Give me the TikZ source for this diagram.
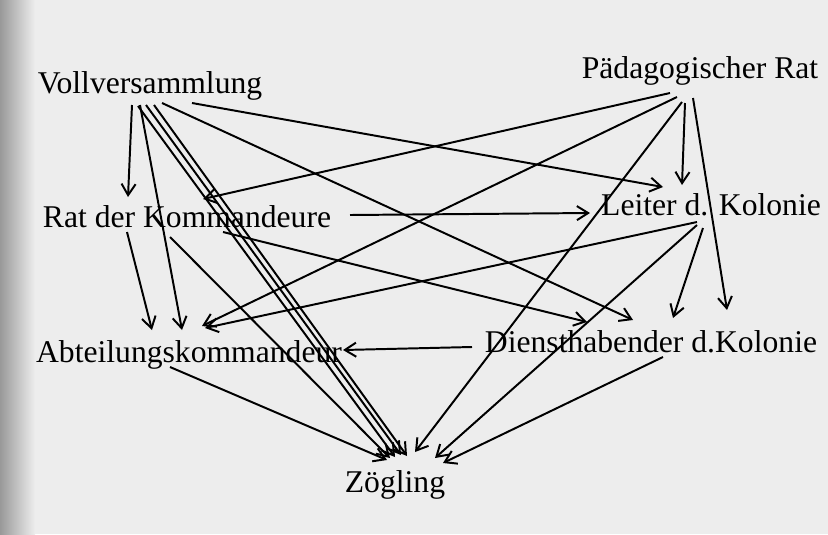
\documentclass[tikz,border=0pt]{standalone}
\usepackage{fontspec}
\setmainfont{Liberation Serif}
\usetikzlibrary{arrows.meta}

\begin{document}
\begin{tikzpicture}[x=0.025cm, y=-0.025cm,
  gremium/.style={anchor=base, inner sep=0pt, font=\fontsize{22.5}{27}\selectfont},
  >={Straight Barb[length=8pt,width=10pt]}]
\useasboundingbox[fill=black!7] (0,0) rectangle (828,534);
\shade[left color=black!40, right color=black!7] (0,0) rectangle (35,534);

\path 
(150,93) node[gremium] (voll) {Vollversammlung}
(700,78) node[gremium] (paed) {Pädagogischer Rat}
(187,227) node[gremium] (rat) {Rat der Kommandeure}
(711,215) node[gremium] (leiter) {Leiter d. Kolonie}
(189,362) node[gremium] (abt) {Abteilungskommandeur}
(651,352) node[gremium] (dienst) {Diensthabender d.Kolonie}
(395,492) node[gremium] (zoegl) {Zögling};

\begin{scope}[line width=1.4pt]
% Vollversammlung
\draw[->] ([shift={(-18,12)}]voll.base) -- ([shift={(-59,-30)}]rat.base);
\draw[->] ([shift={(-10,12)}]voll.base) -- ([shift={(-7,-32)}]abt.base);
\draw[->] ([shift={(-12,13)}]voll.base) -- ([shift={(0,-35)}]zoegl.base);
\draw[->] ([shift={(-4,12)}]voll.base) -- ([shift={(6,-37)}]zoegl.base);
\draw[->] ([shift={(4,12)}]voll.base) -- ([shift={(12,-36)}]zoegl.base);
\draw[->] ([shift={(42,10)}]voll.base) -- ([shift={(-48,-28)}]leiter.base);
\draw[->] ([shift={(12,10)}]voll.base) -- ([shift={(-18,-32)}]dienst.base);
% Paedagogischer Rat
\draw[->] ([shift={(-30,15)}]paed.base) -- ([shift={(16,-28)}]rat.base);
\draw[->] ([shift={(-23,19)}]paed.base) -- ([shift={(13,-36)}]abt.base);
\draw[->] ([shift={(-15,25)}]paed.base) -- ([shift={(-29,-30)}]leiter.base);
\draw[->] ([shift={(-7,20)}]paed.base) -- ([shift={(76,-42)}]dienst.base);
\draw[->] ([shift={(-18,24)}]paed.base) -- ([shift={(20,-40)}]zoegl.base);
% Rat der Kommandeure
\draw[->] ([shift={(-60,5)}]rat.base) -- ([shift={(-37,-32)}]abt.base);
\draw[->] ([shift={(163,-12)}]rat.base) -- ([shift={(-121,-2)}]leiter.base);
\draw[->] ([shift={(36,5)}]rat.base) -- ([shift={(-64,-30)}]dienst.base);
\draw[->] ([shift={(-17,10)}]rat.base) -- ([shift={(-5,-34)}]zoegl.base);
% Leiter d. Kolonie
\draw[->] ([shift={(-14,7)}]leiter.base) -- ([shift={(16,-34)}]abt.base);
\draw[->] ([shift={(-8,13)}]leiter.base) -- ([shift={(22,-34)}]dienst.base);
\draw[->] ([shift={(-14,10)}]leiter.base) -- ([shift={(40,-34)}]zoegl.base);
% Diensthabender, Abteilungskommandeur
\draw[->] ([shift={(-179,-5)}]dienst.base) -- ([shift={(154,-12)}]abt.base);
\draw[->] ([shift={(12,5)}]dienst.base) -- ([shift={(48,-29)}]zoegl.base);
\draw[->] ([shift={(-19,5)}]abt.base) -- ([shift={(-8,-32)}]zoegl.base);
\end{scope}
\end{tikzpicture}
\end{document}
